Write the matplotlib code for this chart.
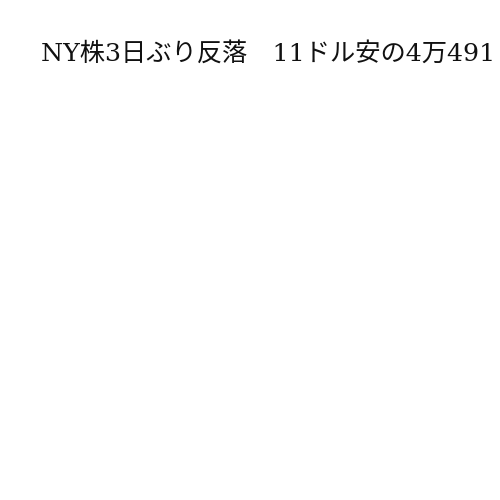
import matplotlib
matplotlib.use("Agg")
import matplotlib.pyplot as plt

# 見出しテキストのみのチャート
TITLE = "NY株3日ぶり反落　11ドル安の4万491"

fig = plt.figure(figsize=(5, 5), dpi=100)
fig.patch.set_facecolor("white")
fig.text(41 / 500, 1 - 60.5 / 500, TITLE, ha="left", va="baseline",
         fontsize=18.2, color="#111111",
         family=["DejaVu Serif", "Noto Sans CJK JP"])
fig.savefig("out.png", dpi=100, facecolor="white")
